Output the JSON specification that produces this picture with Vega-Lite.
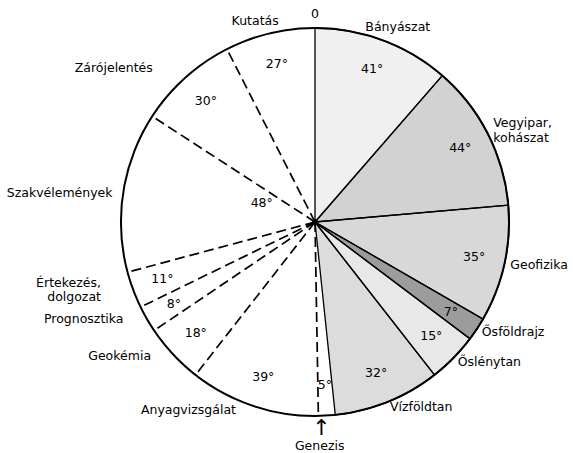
{
  "$schema": "https://vega.github.io/schema/vega-lite/v6.json",
  "width": 516,
  "height": 444,
  "autosize": "none",
  "padding": {"left": 57, "top": 0, "right": 0, "bottom": 9},
  "background": "white",
  "config": {
    "view": {"stroke": null},
    "text": {"font": "DejaVu Sans", "fontSize": 12.5, "fill": "black"}
  },
  "data": {
    "values": [
      {"i": 1, "name": "Bányászat", "deg": 41, "type": "szakterület"},
      {"i": 2, "name": "Vegyipar,\nkohászat", "deg": 44, "type": "szakterület"},
      {"i": 3, "name": "Geofizika", "deg": 35, "type": "szakterület"},
      {"i": 4, "name": "Ősföldrajz", "deg": 7, "type": "szakterület"},
      {"i": 5, "name": "Őslénytan", "deg": 15, "type": "szakterület"},
      {"i": 6, "name": "Vízföldtan", "deg": 32, "type": "szakterület"},
      {"i": 7, "name": "Genezis", "deg": 5, "type": "dokumentum"},
      {"i": 8, "name": "Anyagvizsgálat", "deg": 39, "type": "dokumentum"},
      {"i": 9, "name": "Geokémia", "deg": 18, "type": "dokumentum"},
      {"i": 10, "name": "Prognosztika", "deg": 8, "type": "dokumentum"},
      {"i": 11, "name": "Értekezés,\ndolgozat", "deg": 11, "type": "dokumentum"},
      {"i": 12, "name": "Szakvélemények", "deg": 48, "type": "dokumentum"},
      {"i": 13, "name": "Zárójelentés", "deg": 30, "type": "dokumentum"},
      {"i": 14, "name": "Kutatás", "deg": 27, "type": "dokumentum"}
    ]
  },
  "transform": [{"calculate": "datum.deg + '°'", "as": "fok"}],
  "layer": [
    {
      "encoding": {
        "theta": {"field": "deg", "type": "quantitative", "stack": true, "scale": {"domain": [0, 360]}},
        "order": {"field": "i", "type": "quantitative"},
        "detail": {"field": "name"}
      },
      "layer": [
        {
          "mark": {"type": "arc", "outerRadius": 194, "strokeWidth": 0},
          "encoding": {
            "fill": {
              "field": "name",
              "scale": {
                "domain": ["Bányászat", "Vegyipar,\nkohászat", "Geofizika", "Ősföldrajz", "Őslénytan", "Vízföldtan", "Genezis", "Anyagvizsgálat", "Geokémia", "Prognosztika", "Értekezés,\ndolgozat", "Szakvélemények", "Zárójelentés", "Kutatás"],
                "range": ["#f0f0f0", "#d2d2d2", "#d8d8d8", "#9c9c9c", "#e8e8e8", "#dcdcdc", "#ffffff", "#ffffff", "#ffffff", "#ffffff", "#ffffff", "#ffffff", "#ffffff", "#ffffff"]
              },
              "legend": null
            }
          }
        },
        {
          "mark": {"type": "arc", "outerRadius": 194, "fillOpacity": 0, "fill": "white", "stroke": "black", "strokeWidth": 1.3},
          "encoding": {
            "strokeOpacity": {"condition": {"test": "datum.type == 'szakterület'", "value": 1}, "value": 0}
          }
        },
        {
          "mark": {"type": "text", "radius": 163, "align": "center", "baseline": "middle"},
          "encoding": {
            "text": {"condition": {"test": "datum.i != 12", "field": "fok"}, "value": ""}
          }
        },
        {
          "mark": {"type": "text", "radius": 58, "dx": 4, "dy": -10, "align": "center", "baseline": "middle"},
          "encoding": {
            "text": {"condition": {"test": "datum.i == 12", "field": "fok"}, "value": ""}
          }
        },
        {
          "mark": {"type": "text", "radius": 200, "align": "left", "baseline": "middle"},
          "encoding": {
            "text": {"condition": {"test": "datum.i >= 3 && datum.i <= 6", "field": "name"}, "value": ""}
          }
        },
        {
          "mark": {"type": "text", "radius": 200, "dy": -8, "align": "left", "baseline": "middle", "lineBreak": "\n"},
          "encoding": {
            "text": {"condition": {"test": "datum.i == 2", "field": "name"}, "value": ""}
          }
        },
        {
          "mark": {"type": "text", "radius": 205, "dx": 11, "dy": -3, "align": "center", "baseline": "middle"},
          "encoding": {
            "text": {"condition": {"test": "datum.i == 1", "field": "name"}, "value": ""}
          }
        },
        {
          "mark": {"type": "text", "radius": 205, "dx": -12, "dy": -2, "align": "center", "baseline": "middle"},
          "encoding": {
            "text": {"condition": {"test": "datum.i == 14", "field": "name"}, "value": ""}
          }
        },
        {
          "mark": {"type": "text", "radius": 205, "dx": -14, "dy": -6, "align": "right", "baseline": "middle"},
          "encoding": {
            "text": {"condition": {"test": "datum.i >= 8 && datum.i <= 10", "field": "name"}, "value": ""}
          }
        },
        {
          "mark": {"type": "text", "radius": 205, "dx": -22, "dy": -11, "align": "right", "baseline": "middle", "lineBreak": "\n"},
          "encoding": {
            "text": {"condition": {"test": "datum.i == 11", "field": "name"}, "value": ""}
          }
        },
        {
          "mark": {"type": "text", "radius": 205, "dx": 0, "dy": 3, "align": "right", "baseline": "middle"},
          "encoding": {
            "text": {"condition": {"test": "datum.i == 12", "field": "name"}, "value": ""}
          }
        },
        {
          "mark": {"type": "text", "radius": 205, "dx": -25, "dy": -2, "align": "right", "baseline": "middle"},
          "encoding": {
            "text": {"condition": {"test": "datum.i == 13", "field": "name"}, "value": ""}
          }
        },
        {
          "mark": {"type": "text", "radius": 224, "dx": -9, "align": "center", "baseline": "middle"},
          "encoding": {
            "text": {"condition": {"test": "datum.i == 7", "field": "name"}, "value": ""}
          }
        },
        {
          "mark": {"type": "text", "radius": 206, "dx": -6, "align": "center", "baseline": "middle", "fontSize": 22},
          "encoding": {
            "text": {"condition": {"test": "datum.i == 7", "value": "↑"}, "value": ""}
          }
        }
      ]
    },
    {
      "transform": [
        {"window": [{"op": "sum", "field": "deg", "as": "cum"}], "sort": [{"field": "i"}], "frame": [null, 0]},
        {"filter": "datum.type == 'dokumentum' && datum.cum < 360"},
        {"calculate": "sin(datum.cum * PI / 180)", "as": "px"},
        {"calculate": "cos(datum.cum * PI / 180)", "as": "py"},
        {"calculate": "0", "as": "o"}
      ],
      "mark": {"type": "rule", "stroke": "black", "strokeWidth": 1.7, "strokeDash": [10, 5]},
      "encoding": {
        "x": {"field": "o", "type": "quantitative", "scale": {"domain": [-1.3299, 1.3299], "nice": false, "zero": false}, "axis": null},
        "y": {"field": "o", "type": "quantitative", "scale": {"domain": [-1.1443, 1.1443], "nice": false, "zero": false}, "axis": null},
        "x2": {"field": "px"},
        "y2": {"field": "py"}
      }
    },
    {
      "data": {"values": [{"t": "0"}]},
      "mark": {"type": "text", "radius": 208, "theta": 0, "align": "center", "baseline": "middle"},
      "encoding": {"text": {"field": "t"}}
    },
    {
      "data": {"values": [{"k": "kör"}]},
      "mark": {"type": "arc", "outerRadius": 194, "theta": 0, "theta2": 6.2832, "fillOpacity": 0, "fill": "white", "stroke": "black", "strokeWidth": 2},
      "encoding": {}
    },
    {
      "data": {"values": [{"k": "középpont"}]},
      "mark": {"type": "arc", "outerRadius": 3, "theta": 0, "theta2": 6.2832, "fill": "black"},
      "encoding": {}
    }
  ]
}
